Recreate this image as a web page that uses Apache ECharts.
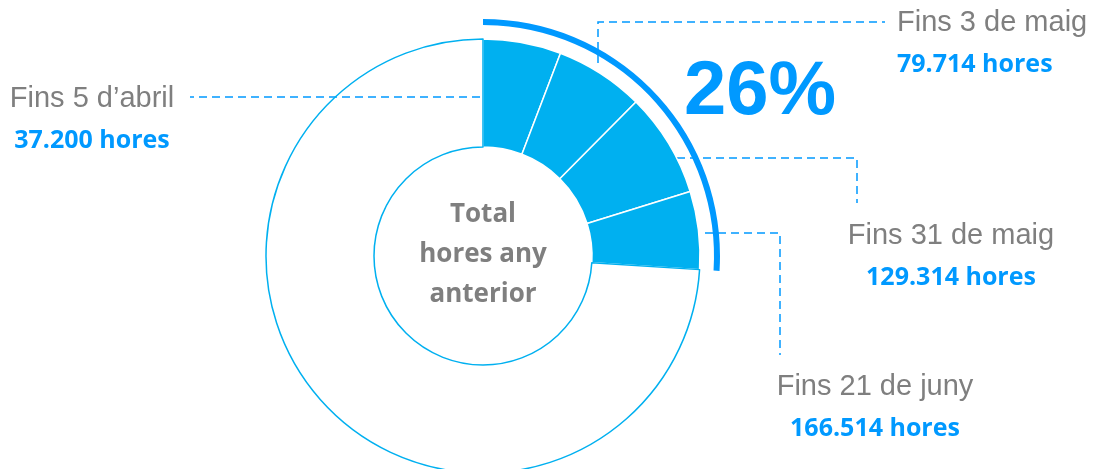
<!DOCTYPE html>
<html>
<head>
<meta charset="utf-8">
<title>Hores</title>
<script src="https://cdn.jsdelivr.net/npm/echarts@6/dist/echarts.min.js"></script>
<style>
  html, body { margin: 0; padding: 0; background: #fff; }
  #main { width: 1098px; height: 469px; }
</style>
</head>
<body>
<div id="main"></div>
<script>
// dades llegides del grafic
var periods = ['Fins 5 d\u2019abril', 'Fins 3 de maig', 'Fins 31 de maig', 'Fins 21 de juny'];
var cumulativeHours = [37200, 79714, 129314, 166514];
var previousYearTotal = 640438; // estimat: 166.514 es el 26%
var centerLines = ['Total', 'hores any', 'anterior'];

var sliceBlue = '#00B0F0';
var textBlue = '#0099FF';
var grey = '#7F7F7F';

// on van les etiquetes i les linies de guia
var labelPos = [
	{ x: 92, y: 120, align: 'center', line: [[480, 97], [330, 97], [190, 97]] },
	{ x: 897, y: 44, align: 'left', line: [[598, 63], [598, 22], [885, 22]] },
	{ x: 951, y: 257, align: 'center', line: [[677, 158], [857, 158], [857, 203]] },
	{ x: 875, y: 408, align: 'center', line: [[705, 233], [780, 233], [780, 355]] }
];

function fmt(n) {
	return String(n).replace(/\B(?=(\d{3})+(?!\d))/g, '.');
}

var sliceData = [];
for (var i = 0; i < periods.length; i++) {
	var prev = i == 0 ? 0 : cumulativeHours[i - 1];
	sliceData.push({
		name: periods[i],
		value: cumulativeHours[i] - prev,
		total: cumulativeHours[i],
		itemStyle: { color: sliceBlue, borderColor: '#fff', borderWidth: 1.5 }
	});
}
var lastTotal = cumulativeHours[cumulativeHours.length - 1];
sliceData.push({
	name: 'resta',
	value: previousYearTotal - lastTotal,
	// transparent perque la linia de guia es vegi per sobre
	itemStyle: { color: 'rgba(255,255,255,0)', borderColor: sliceBlue, borderWidth: 1.5 },
	label: { show: false },
	labelLine: { show: false }
});

var share = Math.round(lastTotal / previousYearTotal * 100) + '%';

var chart = echarts.init(document.getElementById('main'));
var option = {
	animation: false,
	backgroundColor: '#fff',
	series: [
		{
			type: 'pie',
			center: [483, 256],
			radius: [109, 217],
			startAngle: 90,
			clockwise: true,
			silent: true,
			avoidLabelOverlap: false,
			emphasis: { disabled: true },
			label: {
				show: true,
				position: 'outside',
				formatter: function (p) {
					return '{n|' + p.name + '}\n{v|' + fmt(p.data.total) + ' hores}';
				},
				rich: {
					n: { fontFamily: 'Liberation Sans', fontSize: 29, color: grey, lineHeight: 42 },
					v: { fontFamily: 'Open Sans', fontWeight: 'bold', fontSize: 25, color: textBlue, lineHeight: 42 }
				}
			},
			labelLine: {
				show: true,
				smooth: false,
				lineStyle: { color: textBlue, width: 1.5, type: [8, 5] }
			},
			labelLayout: function (p) {
				var pos = labelPos[p.dataIndex];
				if (!pos) return {};
				return {
					x: pos.x,
					y: pos.y,
					align: pos.align,
					verticalAlign: 'middle',
					labelLinePoints: pos.line
				};
			},
			data: sliceData
		},
		{
			// arc exterior del 26%
			type: 'pie',
			center: [483, 256],
			radius: [231, 237],
			startAngle: 90,
			silent: true,
			label: { show: false },
			labelLine: { show: false },
			emphasis: { disabled: true },
			data: [
				{ value: lastTotal, itemStyle: { color: textBlue } },
				{ value: previousYearTotal - lastTotal, itemStyle: { color: 'rgba(0,0,0,0)' } }
			]
		}
	],
	graphic: [
		{
			type: 'text',
			x: 760,
			y: 93,
			style: {
				text: share,
				fill: textBlue,
				font: 'bold 76px "Liberation Sans", Arial, sans-serif',
				align: 'center',
				verticalAlign: 'middle'
			}
		},
		{
			type: 'text',
			x: 483,
			y: 255,
			style: {
				text: centerLines.join('\n'),
				fill: grey,
				font: 'bold 26px "Open Sans", sans-serif',
				lineHeight: 40,
				align: 'center',
				verticalAlign: 'middle'
			}
		}
	]
};
chart.setOption(option);
</script>
</body>
</html>
